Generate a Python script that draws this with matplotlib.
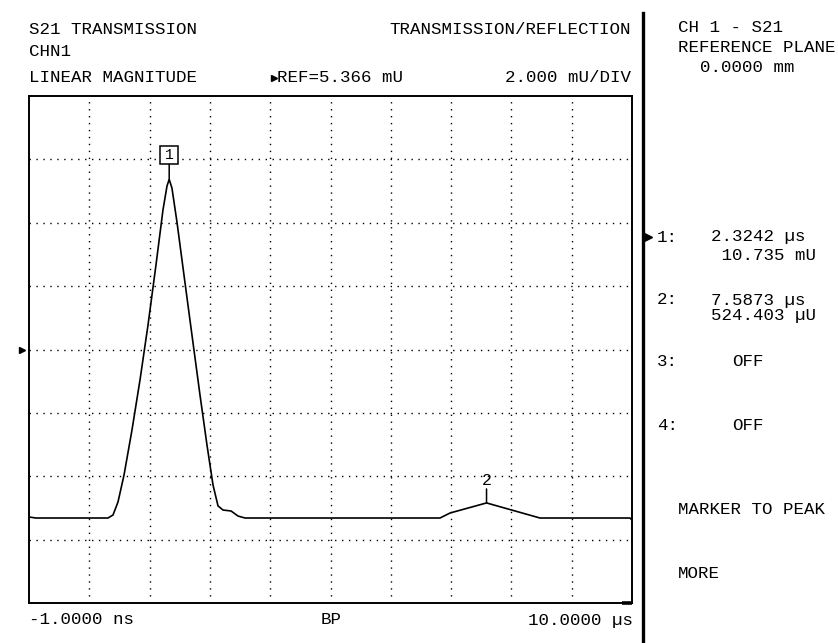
import numpy as np
import matplotlib
matplotlib.use('Agg')
import matplotlib.pyplot as plt
import matplotlib.transforms as mtransforms

# Instrument settings
ref_value = 5.366          # mU, reference line
scale_per_div = 2.000      # mU/DIV
n_xdiv, n_ydiv = 10, 8
t_start, t_stop = -0.001, 10.0   # us

# Trace (time in us, linear magnitude in mU)
trace_time = [-0.001, 0.115, 1.309, 1.392, 1.475, 1.575, 1.707, 1.840, 1.973, 2.105,
              2.221, 2.288, 2.3242, 2.370, 2.453, 2.569, 2.702, 2.835, 2.951, 3.051,
              3.134, 3.217, 3.350, 3.466, 3.582, 6.816, 6.982, 7.5873, 8.474, 9.966, 10.0]
trace_mag = [0.080, 0.048, 0.048, 0.143, 0.553, 1.405, 2.826, 4.404, 6.140, 8.033,
             9.769, 10.526, 10.735, 10.46, 9.39, 7.72, 5.82, 3.93, 2.35, 1.09,
             0.43, 0.30, 0.27, 0.11, 0.048, 0.048, 0.206, 0.524, 0.048, 0.048, -0.015]

# Markers
marker_ids = ['1', '2']
marker_time = [2.3242, 7.5873]
marker_mag = [10.735, 0.524]
marker_lines = [('2.3242 µs', ' 10.735 mU'), ('7.5873 µs', '524.403 µU')]

W, H = 838, 643
FONT = 'Liberation Mono'
FS = 12.6


def fx(x):
    return x / W


def fy(y):
    return 1 - y / H


fig = plt.figure(figsize=(W / 100, H / 100), dpi=100)
fig.patch.set_facecolor('white')

# plot area in pixels
left, right, top, bottom = 29, 632, 96, 603
ax = fig.add_axes([fx(left), fy(bottom), fx(right - left), (bottom - top) / H])
ymin = ref_value - scale_per_div * n_ydiv / 2
ymax = ref_value + scale_per_div * n_ydiv / 2
ax.set_xlim(t_start, t_stop)
ax.set_ylim(ymin, ymax)
ax.set_xticks(np.linspace(t_start, t_stop, n_xdiv + 1)[1:-1])
ax.set_yticks(np.linspace(ymin, ymax, n_ydiv + 1)[1:-1])
ax.tick_params(length=0, labelbottom=False, labelleft=False)
ax.grid(True, color='black', linestyle=(0, (1, 4)), linewidth=1.0)
for s in ax.spines.values():
    s.set_linewidth(1.4)
    s.set_color('black')

ax.plot(trace_time, trace_mag, color='black', lw=1.2, solid_joinstyle='miter')

# marker 1: boxed label above peak
px = 0.72  # points per pixel
off1 = mtransforms.offset_copy(ax.transData, fig=fig, x=0, y=24 * px, units='points')
ax.plot([marker_time[0]], [marker_mag[0]], marker='s', ms=12.5, mfc='white',
        mec='black', mew=1.1, transform=off1, clip_on=False)
ax.text(marker_time[0], marker_mag[0], marker_ids[0], transform=off1, ha='center',
        va='center', fontsize=10.5, family=FONT)
ax.annotate('', xy=(marker_time[0], marker_mag[0]), xytext=(0, 15 * px),
            textcoords='offset points',
            arrowprops=dict(arrowstyle='-', lw=1.1, color='black', shrinkA=0, shrinkB=0))

# marker 2: plain label above peak
off2 = mtransforms.offset_copy(ax.transData, fig=fig, x=0, y=22 * px, units='points')
ax.text(marker_time[1], marker_mag[1], marker_ids[1], transform=off2, ha='center',
        va='center', fontsize=12, family=FONT)
ax.annotate('', xy=(marker_time[1], marker_mag[1]), xytext=(0, 14 * px),
            textcoords='offset points',
            arrowprops=dict(arrowstyle='-', lw=1.1, color='black', shrinkA=0, shrinkB=0))

# reference level arrow on left edge
ref_tr = mtransforms.blended_transform_factory(ax.transAxes, ax.transData)
ax.plot([-0.012], [ref_value], marker='>', ms=5, color='black', transform=ref_tr,
        clip_on=False)

# small thick segment at bottom right of graticule
ax.plot([0.984, 1.0], [0, 0], color='black', lw=2.6, transform=ax.transAxes,
        clip_on=False, solid_capstyle='butt')


def txt(x, y, s, ha='left', **kw):
    fig.text(fx(x), fy(y), s, ha=ha, va='center', fontsize=FS, family=FONT, **kw)


# header
txt(29, 30, 'S21 TRANSMISSION')
txt(29, 52, 'CHN1')
txt(29, 78, 'LINEAR MAGNITUDE')
txt(277, 78, f'REF={ref_value:.3f} mU')
fig.lines.append(plt.Line2D([fx(274)], [fy(78)], marker='>', ms=4.5, color='black',
                            transform=fig.transFigure))
txt(631, 30, 'TRANSMISSION/REFLECTION', ha='right')
txt(631, 78, f'{scale_per_div:.3f} mU/DIV', ha='right')

# bottom labels
txt(29, 620, '-1.0000 ns')
txt(331, 620, 'BP', ha='center')
txt(633, 620, '10.0000 µs', ha='right')

# divider
fig.lines.append(plt.Line2D([fx(643), fx(643)], [fy(13), 0], color='black', lw=2.4,
                            transform=fig.transFigure))

# side panel
txt(678, 28, 'CH 1 - S21')
txt(678, 48, 'REFERENCE PLANE')
txt(700, 68, '0.0000 mm')

rows_y = [(237, 255), (300, 315)]
for i, (l1, l2) in enumerate(marker_lines):
    y1, y2 = rows_y[i]
    txt(657, y1, f'{marker_ids[i]}:')
    txt(711, y1, l1)
    txt(711, y2, l2)
fig.lines.append(plt.Line2D([fx(648)], [fy(237)], marker='>', ms=6, color='black',
                            transform=fig.transFigure))
txt(657, 362, '3:')
txt(732, 362, 'OFF')
txt(657, 425, '4:')
txt(732, 425, 'OFF')
txt(678, 510, 'MARKER TO PEAK')
txt(678, 573, 'MORE')

fig.savefig('out.png', dpi=100, facecolor='white')
